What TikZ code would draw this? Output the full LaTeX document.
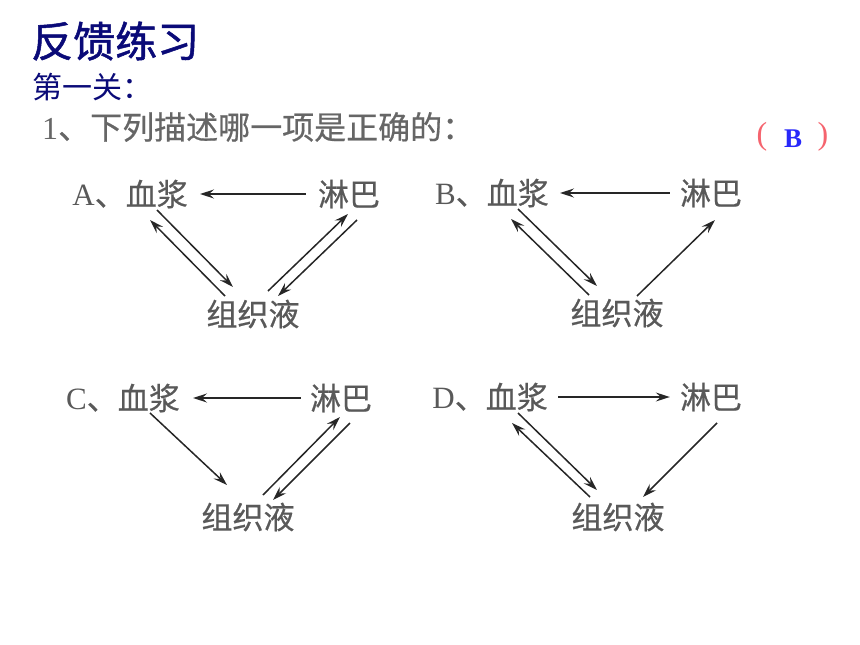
\documentclass[tikz,border=0pt]{standalone}
\usepackage{fontspec}
\usepackage{xcolor}
\usepackage{tikz}
\usetikzlibrary{arrows.meta}
\setmainfont{Liberation Serif}
\newfontfamily\cjk{Noto Sans CJK SC}
\newfontfamily\cjkhead[FakeBold=1.2]{Noto Sans CJK SC}
\newfontfamily\cjklbl[FakeBold=0.6]{Noto Sans CJK SC}
\definecolor{titleblue}{RGB}{10,10,120}
\definecolor{ansblue}{RGB}{40,40,250}
\definecolor{parenred}{RGB}{245,100,110}
\begin{document}
\begin{tikzpicture}[x=1pt,y=-1pt,
	head/.style={font=\cjkhead\fontsize{42}{42}\selectfont,text=titleblue,inner sep=0pt,anchor=west},
	sub/.style={font=\cjk\fontsize{30}{30}\selectfont,text=titleblue,inner sep=0pt,anchor=west},
	ques/.style={font=\cjklbl\fontsize{32}{32}\selectfont,text=black!60,inner sep=0pt,anchor=west},
	paren/.style={font=\rmfamily\fontsize{32}{32}\selectfont,text=parenred,inner sep=0pt},
	ans/.style={font=\rmfamily\bfseries\fontsize{27}{27}\selectfont,text=ansblue,inner sep=0pt},
	lbl/.style={font=\cjklbl\fontsize{31}{31}\selectfont,text=black!65,inner sep=0pt},
	arr/.style={-{Stealth[length=14pt,width=9pt,inset=5pt]},line width=1.5pt,draw=black!85}]
	\useasboundingbox (0,0) rectangle (860,645);
	\node[head] (title) at (31,41) {反馈练习};
	\node[sub] (level) at (32,87) {第一关：};
	\node[ques] (q1) at (42,127) {{\rmfamily 1}、下列描述哪一项是正确的：};
	\node[paren] (lpar) at (762,137) {(};
	\node[ans] (ans) at (793,139) {B};
	\node[paren] (rpar) at (823,137) {)};
	% A
	\node[lbl,anchor=east] (pA) at (188,194) {{\rmfamily A}、血浆};
	\node[lbl] (lA) at (349,194) {淋巴};
	\node[lbl] (tA) at (253,314) {组织液};
	\draw[arr] ([xshift=-12]lA.west) -- ([xshift=12]pA.east);
	\draw[arr] ([shift={(-31,16)}]pA.east) -- ([shift={(-20,-27)}]tA.center);
	\draw[arr] ([shift={(-28,-18)}]tA.center) -- ([shift={(-38,26)}]pA.east);
	\draw[arr] ([shift={(15,-23)}]tA.center) -- ([shift={(-1,20)}]lA.center);
	\draw[arr] ([shift={(8,26)}]lA.center) -- ([shift={(25,-18)}]tA.center);
	% B
	\node[lbl,anchor=east] (pB) at (549,193) {{\rmfamily B}、血浆};
	\node[lbl] (lB) at (711,193) {淋巴};
	\node[lbl] (tB) at (617,313) {组织液};
	\draw[arr] ([xshift=-10]lB.west) -- ([xshift=11]pB.east);
	\draw[arr] ([shift={(-31,16)}]pB.east) -- ([shift={(-20,-27)}]tB.center);
	\draw[arr] ([shift={(-28,-18)}]tB.center) -- ([shift={(-38,26)}]pB.east);
	\draw[arr] ([shift={(20,-17)}]tB.center) -- ([shift={(4,27)}]lB.center);
	% C
	\node[lbl,anchor=east] (pC) at (180,398) {{\rmfamily C}、血浆};
	\node[lbl] (lC) at (341,398) {淋巴};
	\node[lbl] (tC) at (248,517) {组织液};
	\draw[arr] ([xshift=-9]lC.west) -- ([xshift=13]pC.east);
	\draw[arr] ([shift={(-30,15)}]pC.east) -- ([shift={(-21,-32)}]tC.center);
	\draw[arr] ([shift={(15,-22)}]tC.center) -- ([shift={(-1,19)}]lC.center);
	\draw[arr] ([shift={(9,25)}]lC.center) -- ([shift={(25,-17)}]tC.center);
	% D
	\node[lbl,anchor=east] (pD) at (548,397) {{\rmfamily D}、血浆};
	\node[lbl] (lD) at (711,397) {淋巴};
	\node[lbl] (tD) at (618,517) {组织液};
	\draw[arr] ([xshift=10]pD.east) -- ([xshift=-10]lD.west);
	\draw[arr] ([shift={(-30,16)}]pD.east) -- ([shift={(-21,-27)}]tD.center);
	\draw[arr] ([shift={(-28,-20)}]tD.center) -- ([shift={(-36,26)}]pD.east);
	\draw[arr] ([shift={(6,26)}]lD.center) -- ([shift={(25,-20)}]tD.center);
\end{tikzpicture}
\end{document}
